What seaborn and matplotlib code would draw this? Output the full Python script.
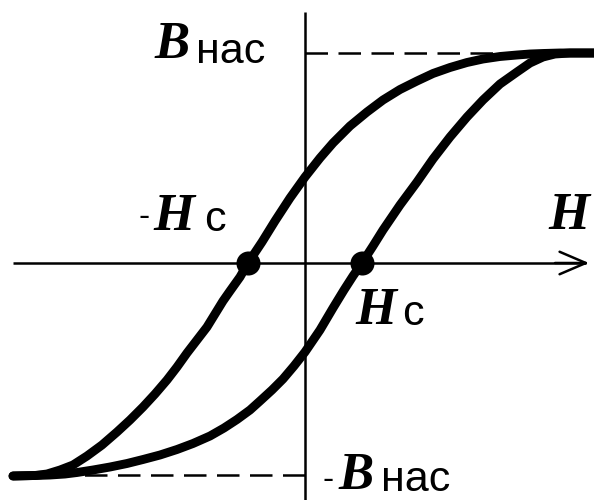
import matplotlib
matplotlib.use("Agg")
import matplotlib.pyplot as plt
import seaborn as sns
import pandas as pd

# Hysteresis loop, arbitrary units (Hc = 57, B_sat = 210)
# Descending branch (from +saturation to -saturation)
H_desc = [289, 255, 238, 225, 212, 195, 178, 162, 145, 128, 112, 95, 78, 62, 45, 28,
          15, 0, -15, -30, -43, -57, -65, -75, -82, -90, -98, -108, -118, -128, -138,
          -150, -162, -175, -188, -203, -218, -232, -245, -258, -270, -292]
B_desc = [210, 210, 209.5, 209, 208, 206.5, 204, 200.5, 195.5, 189.5, 182, 173.5, 163,
          151, 137, 120, 105, 86, 65, 42, 21, 0, -14, -28, -38, -51, -64, -77, -90, -104,
          -117, -131, -144, -157, -169, -182, -193, -202, -207, -211, -212.5, -213]

# Ascending branch (from -saturation to +saturation)
H_asc = [-292, -270, -255, -240, -228, -212, -195, -178, -162, -145, -128, -112, -95,
         -81, -68, -55, -45, -33, -22, -11, 0, 15, 28, 39, 48, 57, 68, 78, 95, 112, 128,
         145, 162, 178, 195, 212, 225, 238, 250, 265, 289]
B_asc = [-213, -212.5, -212, -211, -209.5, -207, -204, -200.5, -196.5, -192, -186.5,
         -180.5, -173, -165, -156.5, -147, -138, -127, -116, -103, -89, -67, -45, -27,
         -13, 0, 17, 33, 58, 81, 104, 126, 146, 163, 179, 191, 200, 206, 209, 210, 210]

# Coercive force and saturation induction
Hc_points = [-57, 57]
Hc_B = [0, 0]
B_sat_top = 210
B_sat_bottom = -212

sns.set_style("white")

fig = plt.figure(figsize=(5.94, 5.0), dpi=100)
ax = fig.add_axes([0, 0, 1, 1])
ax.set_xlim(-305, 289)
ax.set_ylim(-237, 263)
ax.axis("off")

# coordinate axes
ax.plot([0, 0], [251, -237], color="black", lw=1.8, solid_capstyle="butt")
ax.plot([-292, 281], [0, 0], color="black", lw=1.8, solid_capstyle="butt")
ax.annotate("", xy=(284, 0), xytext=(250, 0),
            arrowprops=dict(arrowstyle="->,head_length=1.05,head_width=0.45",
                            lw=1.8, color="black", mutation_scale=18,
                            shrinkA=0, shrinkB=0))

# saturation levels
dash = (0, (9.0, 4.2))
ax.plot([0, 255], [B_sat_top, B_sat_top], color="black", lw=1.8, linestyle=dash)
ax.plot([0, -245], [B_sat_bottom, B_sat_bottom], color="black", lw=1.8, linestyle=dash)

# loop branches
desc = pd.DataFrame({"H": H_desc, "B": B_desc})
asc = pd.DataFrame({"H": H_asc, "B": B_asc})
for df in (desc, asc):
    sns.lineplot(data=df, x="H", y="B", sort=False, estimator=None, ax=ax,
                 color="black", lw=6.4, solid_capstyle="round",
                 solid_joinstyle="round")

sns.scatterplot(x=Hc_points, y=Hc_B, ax=ax, color="black", s=300,
                edgecolor="black", linewidth=0, zorder=5)

serif = dict(family="Liberation Serif", weight="bold", style="italic", color="black")
sans = dict(family="Liberation Sans", color="black")

# B_sat label
ax.text(-151, 205, "B", fontsize=38, **serif)
ax.text(-109, 200, "нас", fontsize=31, **sans)
# -Hc label
ax.text(-166, 37, "-", fontsize=24, **sans)
ax.text(-152, 33, "H", fontsize=38, **serif)
ax.text(-101, 32, "с", fontsize=31, **sans)
# H axis label
ax.text(243, 34, "H", fontsize=38, **serif)
# Hc label
ax.text(50, -61, "H", fontsize=38, **serif)
ax.text(97, -62, "с", fontsize=31, **sans)
# -B_sat label
ax.text(18, -226, "-", fontsize=24, **sans)
ax.text(33, -226, "B", fontsize=38, **serif)
ax.text(76, -228, "нас", fontsize=31, **sans)

fig.savefig("out.png", dpi=100)
